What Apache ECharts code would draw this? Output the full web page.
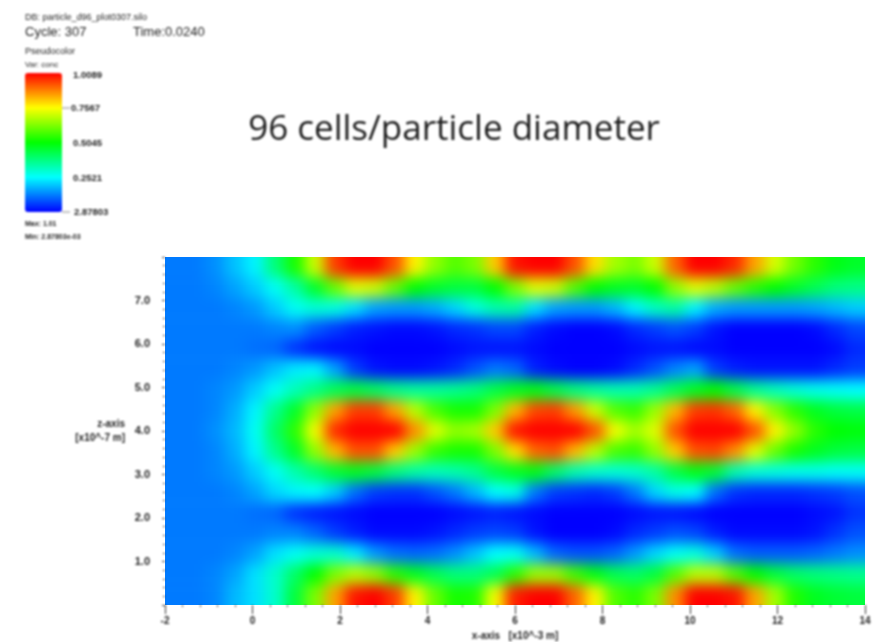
<!DOCTYPE html>
<html><head><meta charset="utf-8">
<style>html,body{margin:0;padding:0;background:#fff}#c{width:888px;height:642px}</style>
<script src="https://cdn.jsdelivr.net/npm/echarts@6/dist/echarts.min.js"></script>
</head><body><div id="c"></div>
<script>
// Field values in percent of the colour scale, rows from top of plot to bottom, columns left to right.
const heatRows = [
[12,12,14,19,24,38,52,70,94,100,100,92,76,64,58,62,80,98,100,100,92,78,66,62,70,90,100,100,96,84,71,61,54,48,46],
[12,12,13,16,20,26,34,46,60,72,70,60,50,46,44,44,50,62,72,70,58,50,47,46,50,64,72,68,60,54,50,46,42,38,37],
[12,12,12,13,15,20,26,29,28,22,16,15,15,17,21,28,33,34,22,16,15,15,18,24,31,34,24,17,15,15,15,15,16,18,20],
[12,12,12,12,12,13,14,9,6,3,2,1,1,2,4,5,7,7,3,1,0,0,1,4,6,8,6,2,0,0,0,0,1,4,7],
[12,12,12,12,11,10,5,2,1,1,0,0,0,0,1,2,2,2,1,0,0,0,0,1,2,2,1,1,0,0,0,0,0,1,4],
[12,12,12,13,15,19,23,24,16,6,2,1,1,2,4,8,12,10,3,1,0,0,1,4,8,13,16,6,3,2,2,2,2,4,6],
[12,12,13,15,20,26,32,37,42,44,41,37,35,35,36,38,43,47,48,43,38,35,33,33,36,42,47,50,43,36,32,29,27,26,25],
[12,12,13,17,24,36,46,64,84,94,94,84,68,57,52,52,62,82,93,94,85,70,58,55,65,82,94,95,90,76,63,54,47,44,43],
[12,12,14,18,26,40,54,74,96,100,100,100,86,72,64,66,80,98,100,100,100,92,74,66,72,92,100,100,100,92,76,64,54,50,49],
[12,12,13,17,24,36,46,64,82,92,92,80,65,55,52,52,62,78,90,92,82,68,57,55,64,80,92,93,86,72,60,52,47,44,43],
[12,12,13,15,20,26,33,39,45,47,44,38,34,32,33,36,43,47,48,40,33,30,29,30,34,43,48,45,33,29,28,27,27,26,26],
[12,12,12,13,16,21,24,25,20,11,6,5,5,8,12,18,25,27,12,6,5,4,6,12,21,27,25,11,5,4,4,4,5,6,8],
[12,12,12,12,11,10,5,3,2,1,0,0,0,0,1,2,3,2,1,0,0,0,0,1,2,2,1,0,0,0,0,0,1,2,5],
[12,12,12,12,12,13,13,10,6,3,1,1,1,2,4,6,7,6,2,0,0,0,1,4,6,8,7,3,1,1,1,1,2,5,8],
[12,12,12,13,16,22,26,29,30,23,15,11,10,11,14,19,25,26,18,10,8,8,10,15,21,26,28,20,11,9,9,9,10,12,14],
[12,12,13,16,22,30,40,50,62,68,64,54,47,42,38,38,42,54,65,65,56,48,42,40,44,58,68,68,58,50,44,40,38,37,36],
[12,12,13,18,22,30,44,62,84,98,100,94,76,60,52,53,74,97,100,100,90,76,58,54,62,86,100,100,98,84,66,53,47,45,44]
];
const yTickLabels = ['', '1.0', '2.0', '3.0', '4.0', '5.0', '6.0', '7.0', ''];
const colorStops = ['#0000ff', '#00ffff', '#00ff00', '#ffff00', '#ff0000'];
const barLabels = ['1.0089', '0.7567', '0.5045', '0.2521', '2.87803'];
const titleText = '96 cells/particle diameter';

const nCols = heatRows[0].length, nRows = heatRows.length;
// Edge cells repeated outside the plot so the soft rendering keeps full colour up to the border.
const pad = 2;
const table = [];
for (let r = -pad; r < nRows + pad; r++) for (let c = -pad; c < nCols + pad; c++) {
  const rr = Math.min(nRows - 1, Math.max(0, r)), cc = Math.min(nCols - 1, Math.max(0, c));
  table.push([c + pad, r + pad, heatRows[rr][cc]]);
}
const idx = n => Array.from({length: n}, (_, i) => i);
const ink = '#222';
const smallText = (x, y, text, size, weight) => ({type: 'text', zlevel: 1, x, y,
  style: {text, fill: ink, font: (weight || 'normal') + ' ' + size + 'px "Liberation Sans", sans-serif', textVerticalAlign: 'middle'}});
const barTick = (y) => ({type: 'line', zlevel: 1, shape: {x1: 62, y1: y, x2: 70, y2: y}, style: {stroke: '#888', lineWidth: 1}});
const cw = 20, ch = 348 / 17;

const chart = echarts.init(document.getElementById('c'), null, {renderer: 'canvas'});
chart.setOption({
  animation: false,
  backgroundColor: 'transparent',
  title: {text: titleText, left: 449, top: 108, textAlign: 'center', zlevel: 1,
    textStyle: {fontFamily: '"Open Sans", sans-serif', fontWeight: 400, fontSize: 35, color: '#1c1c1c'}},
  grid: [
    {left: 165 - pad * cw, top: 257 - pad * ch, width: (nCols + 2 * pad) * cw, height: (nRows + 2 * pad) * ch, show: false, outerBoundsMode: 'none'},
    {left: 165, top: 257, width: 700, height: 348, show: false, outerBoundsMode: 'none'}
  ],
  xAxis: [
    {type: 'category', gridIndex: 0, data: idx(nCols + 2 * pad), show: false},
    {type: 'value', gridIndex: 1, min: -2, max: 14, interval: 2, zlevel: 1,
      name: 'x-axis   [x10^-3 m]', nameLocation: 'middle', nameGap: 23,
      nameTextStyle: {fontSize: 10, color: ink, fontFamily: '"Liberation Sans"', fontWeight: 'bold'},
      axisLine: {show: false}, splitLine: {show: false},
      axisTick: {length: 9, lineStyle: {color: '#333', width: 1}},
      minorTick: {show: true, splitNumber: 5, length: 2, lineStyle: {color: '#333'}},
      axisLabel: {fontSize: 10, color: ink, margin: 11, fontFamily: '"Liberation Sans"', fontWeight: 'bold'}}
  ],
  yAxis: [
    {type: 'category', gridIndex: 0, data: idx(nRows + 2 * pad), inverse: true, show: false},
    {type: 'value', gridIndex: 1, min: 0, max: 8, interval: 1, zlevel: 1,
      name: 'z-axis\n[x10^-7 m]', nameLocation: 'middle', nameRotate: 0, nameGap: 40,
      nameTextStyle: {fontSize: 10, color: ink, fontFamily: '"Liberation Sans"', fontWeight: 'bold', lineHeight: 14},
      axisLine: {show: false, onZero: false}, splitLine: {show: false},
      axisTick: {length: 3, lineStyle: {color: '#333'}},
      minorTick: {show: true, splitNumber: 5, length: 2, lineStyle: {color: '#333'}},
      axisLabel: {fontSize: 11, color: ink, margin: 15, fontFamily: '"Liberation Sans"', fontWeight: 'bold',
        formatter: v => yTickLabels[v]}}
  ],
  visualMap: {type: 'continuous', seriesIndex: 0, min: 0, max: 100, left: 25, top: 73, padding: 0,
    itemWidth: 37, itemHeight: 139, calculable: false, realtime: false, text: null, showLabel: false,
    zlevel: 1, inRange: {color: colorStops}},
  series: [{type: 'heatmap', xAxisIndex: 0, yAxisIndex: 0, data: table, progressive: 0, silent: true,
    itemStyle: {borderWidth: 0}, emphasis: {disabled: true}}],
  graphic: {elements: [
    smallText(25, 18, 'DB: particle_d96_plot0307.silo', 9),
    smallText(25, 32, 'Cycle: 307', 13),
    smallText(133, 32, 'Time:0.0240', 13),
    smallText(25, 52, 'Pseudocolor', 9),
    smallText(25, 65, 'Var: conc', 8),
    smallText(73, 75, barLabels[0], 9.5, 'bold'),
    smallText(71, 108, barLabels[1], 9.5, 'bold'),
    smallText(73, 143, barLabels[2], 9.5, 'bold'),
    smallText(73, 178, barLabels[3], 9.5, 'bold'),
    smallText(74, 212, barLabels[4], 9.5, 'bold'),
    smallText(25, 224, 'Max: 1.01', 7, 'bold'),
    smallText(25, 237, 'Min: 2.87803e-03', 7, 'bold'),
    barTick(108), barTick(212)
  ]}
});

function soften() {
  const cs = chart.getDom().querySelectorAll('canvas');
  cs.forEach(cv => {
    if (cv.getAttribute('data-zr-dom-id') === 'zr_0') {
      cv.style.filter = 'blur(7px)';
      cv.style.clipPath = 'inset(257px 23px 37px 165px)';
    } else {
      cv.style.filter = 'blur(0.9px)';
    }
  });
}
soften();
chart.on('finished', soften);
</script>
</body></html>
